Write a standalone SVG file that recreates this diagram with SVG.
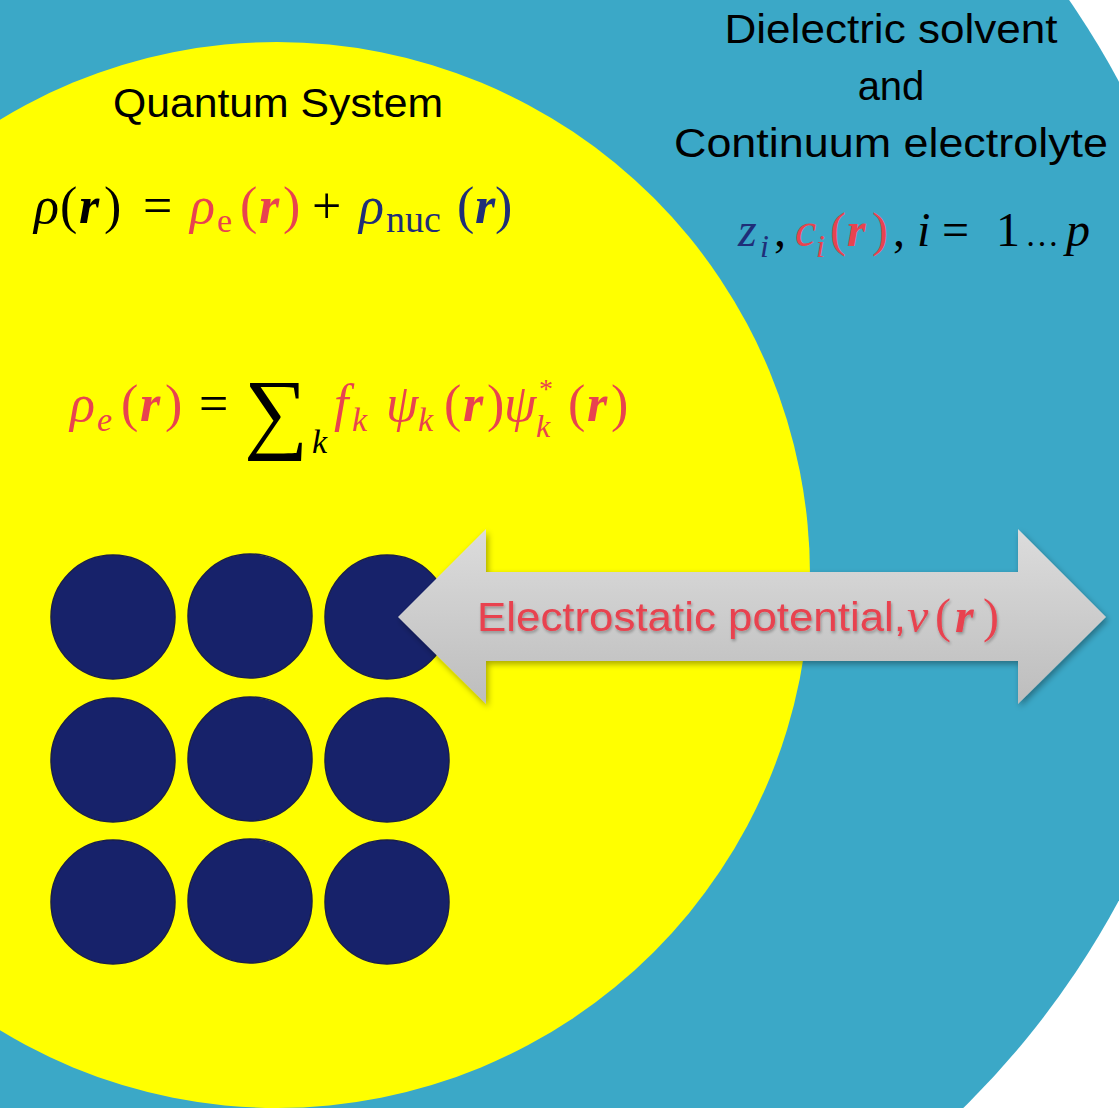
<svg xmlns="http://www.w3.org/2000/svg" width="1119" height="1108" viewBox="0 0 1119 1108">
<defs>
<linearGradient id="arrowGrad" x1="0" y1="0" x2="0" y2="1">
<stop offset="0" stop-color="#dcdcdc"/>
<stop offset="1" stop-color="#bdbdbd"/>
</linearGradient>
<filter id="shadow" x="-5%" y="-10%" width="110%" height="130%">
<feGaussianBlur in="SourceAlpha" stdDeviation="3"/>
<feOffset dx="2" dy="3" result="b"/>
<feComponentTransfer><feFuncA type="linear" slope="0.35"/></feComponentTransfer>
<feMerge><feMergeNode/><feMergeNode in="SourceGraphic"/></feMerge>
</filter>
<filter id="glow" x="-5%" y="-20%" width="110%" height="140%">
<feGaussianBlur in="SourceAlpha" stdDeviation="1.5"/>
<feOffset dx="1" dy="2"/>
<feComponentTransfer><feFuncA type="linear" slope="0.3"/></feComponentTransfer>
<feMerge><feMergeNode/><feMergeNode in="SourceGraphic"/></feMerge>
</filter>
</defs>
<style>
.sans{font-family:"Liberation Sans",Arial,sans-serif;font-size:40px;fill:#000}
.math{font-family:"Liberation Serif","DejaVu Serif",serif;font-size:52px}
.it{font-style:italic}
.bi{font-style:italic;font-weight:bold}
.sub{font-size:34px}
.red{fill:#e8434f}
.navy{fill:#1f2e78}
.blk{fill:#000}
.atom{fill:#17226a;stroke:#1a1f4a;stroke-width:1.5}
</style>
<rect width="1119" height="1108" fill="#ffffff"/>
<g id="solvent">
<circle cx="357" cy="491" r="865" fill="#3ba8c7"/>
<text class="sans" text-anchor="middle" x="891" y="43" textLength="333" lengthAdjust="spacingAndGlyphs">Dielectric solvent</text>
<text class="sans" text-anchor="middle" x="891" y="100">and</text>
<text class="sans" text-anchor="middle" x="891" y="157" textLength="434" lengthAdjust="spacingAndGlyphs">Continuum electrolyte</text>
<text class="math" y="246" style="font-size:48px">
<tspan class="it navy" x="738">z</tspan><tspan class="it navy sub" x="760" y="257" style="font-size:32px">i</tspan><tspan class="blk" x="774" y="246">,</tspan><tspan class="it red" x="795">c</tspan><tspan class="it red sub" x="816" y="257" style="font-size:32px">i</tspan><tspan class="red" x="830" y="246">(</tspan><tspan class="bi red" x="847">r</tspan><tspan class="red" x="872">)</tspan><tspan class="blk" x="893">,</tspan><tspan class="it blk" x="917">i</tspan><tspan class="blk" x="942">=</tspan><tspan class="blk" x="996">1</tspan><tspan class="blk" x="1025" style="font-size:34px">…</tspan><tspan class="it blk" x="1066">p</tspan>
</text>
</g>
<g id="quantum-system">
<circle cx="277" cy="575" r="533" fill="#ffff00"/>
<text class="sans" x="113" y="117" textLength="330" lengthAdjust="spacingAndGlyphs">Quantum System</text>
<text class="math" y="223">
<tspan class="it blk" x="34">ρ</tspan><tspan class="blk" x="60">(</tspan><tspan class="bi blk" x="79">r</tspan><tspan class="blk" x="104">)</tspan><tspan class="blk" x="143">=</tspan><tspan class="it red" x="190">ρ</tspan><tspan class="red sub" x="217" y="232">e</tspan><tspan class="red" x="240" y="223">(</tspan><tspan class="bi red" x="259">r</tspan><tspan class="red" x="283">)</tspan><tspan class="blk" x="312">+</tspan><tspan class="it navy" x="359">ρ</tspan><tspan class="navy" x="386" y="232" style="font-size:38px">nuc</tspan><tspan class="navy" x="457" y="223">(</tspan><tspan class="bi navy" x="475">r</tspan><tspan class="navy" x="495">)</tspan>
</text>
<text class="math" y="421">
<tspan class="it red" x="70">ρ</tspan><tspan class="it red sub" x="97" y="431">e</tspan><tspan class="red" x="121" y="421">(</tspan><tspan class="bi red" x="140">r</tspan><tspan class="red" x="165">)</tspan><tspan class="blk" x="199">=</tspan><tspan class="blk" x="244" y="442" style="font-size:90px">∑</tspan><tspan class="it blk sub" x="312" y="453">k</tspan><tspan class="it red" x="334" y="421">f</tspan><tspan class="it red sub" x="352" y="431">k</tspan><tspan class="it red" x="386" y="421">ψ</tspan><tspan class="it red sub" x="418" y="431">k</tspan><tspan class="red" x="444" y="421">(</tspan><tspan class="bi red" x="463">r</tspan><tspan class="red" x="487">)</tspan><tspan class="it red" x="504">ψ</tspan><tspan class="red" x="539" y="398" style="font-size:28px">*</tspan><tspan class="it red" x="536" y="437" style="font-size:32px">k</tspan><tspan class="red" x="568" y="421">(</tspan><tspan class="bi red" x="587">r</tspan><tspan class="red" x="611">)</tspan>
</text>
</g>
<g id="atoms">
<circle id="atom-1" class="atom" cx="113" cy="617" r="62"/>
<circle id="atom-2" class="atom" cx="250" cy="616" r="62"/>
<circle id="atom-3" class="atom" cx="387" cy="617" r="62"/>
<circle id="atom-4" class="atom" cx="113" cy="760" r="62"/>
<circle id="atom-5" class="atom" cx="250" cy="759" r="62"/>
<circle id="atom-6" class="atom" cx="387" cy="760" r="62"/>
<circle id="atom-7" class="atom" cx="113" cy="902" r="62"/>
<circle id="atom-8" class="atom" cx="250" cy="901" r="62"/>
<circle id="atom-9" class="atom" cx="387" cy="902" r="62"/>
</g>
<g id="connectors">
<path d="M398,617 L486,529 L486,572 L1018,572 L1018,529 L1106,617 L1018,704 L1018,661 L486,661 L486,704 Z" fill="url(#arrowGrad)" filter="url(#shadow)"/>
<g filter="url(#glow)">
<text class="sans red" x="477" y="631" textLength="429" lengthAdjust="spacingAndGlyphs">Electrostatic potential,</text>
<text class="math red" y="632" style="font-size:48px"><tspan class="it" x="907">ν</tspan><tspan x="935">(</tspan><tspan class="bi" x="955">r</tspan><tspan x="983">)</tspan></text>
</g>
</g>
</svg>
